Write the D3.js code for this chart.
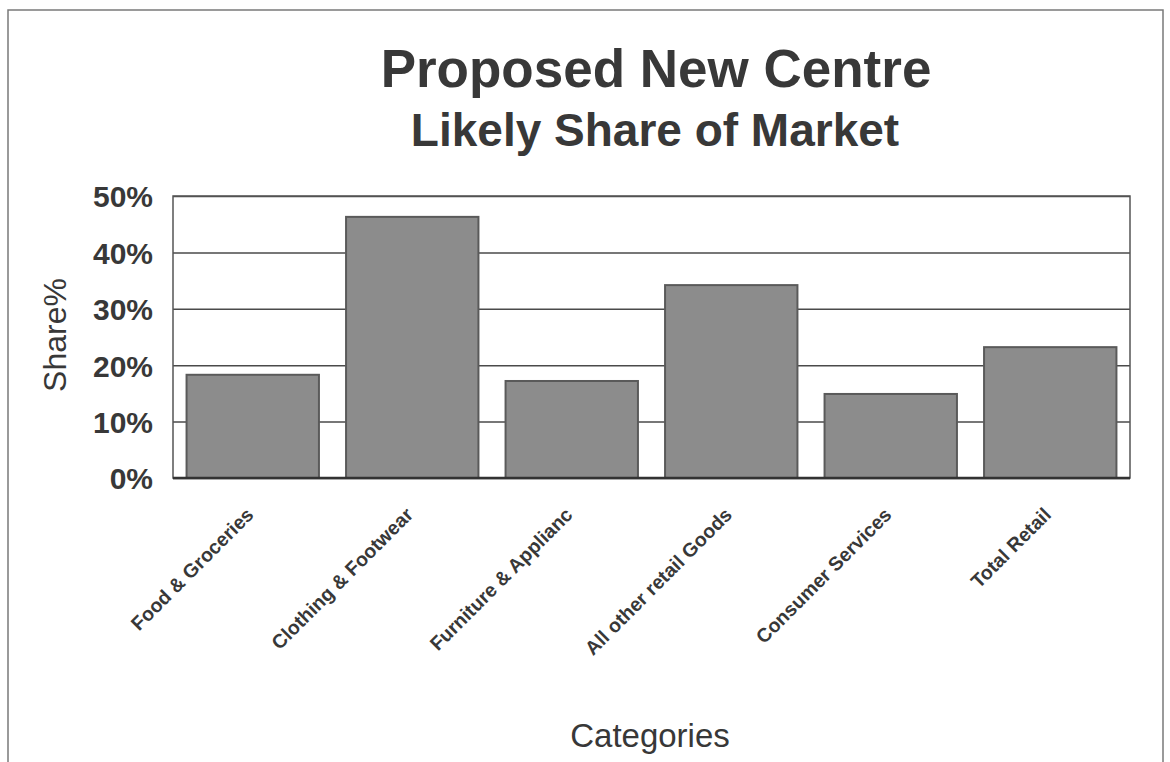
<!DOCTYPE html>
<html>
<head>
<meta charset="utf-8">
<script src="https://cdn.jsdelivr.net/npm/d3@7"></script>
<style>
  body { margin: 0; background: #fff; }
  svg { font-family: "Liberation Sans", Arial, sans-serif; }
</style>
</head>
<body>
<div id="chart"></div>
<script>
// chart data
const CATEGORIES = ["Food & Groceries", "Clothing & Footwear", "Furniture & Applianc",
                    "All other retail Goods", "Consumer Services", "Total Retail"];
const SHARES = [0.183, 0.463, 0.172, 0.342, 0.149, 0.232];
const Y_TICKS = [0, 0.1, 0.2, 0.3, 0.4, 0.5];

// frame constants
const FRAME_WIDTH = 1170;
const FRAME_HEIGHT = 762;
const MARGINS = {left: 173, right: 40, top: 196, bottom: 284};
const VIS_WIDTH = FRAME_WIDTH - MARGINS.left - MARGINS.right;
const VIS_HEIGHT = FRAME_HEIGHT - MARGINS.top - MARGINS.bottom;

const INK = "#383838";

const FRAME = d3.select("#chart")
  .append("svg")
    .attr("width", FRAME_WIDTH)
    .attr("height", FRAME_HEIGHT);

// outer chart border (bottom edge is cut off in the scan)
FRAME.append("path")
  .attr("d", "M8,775 L8,10 L1163,10 L1163,775")
  .attr("fill", "none")
  .attr("stroke", "#7a7a7a")
  .attr("stroke-width", 1.5);

// titles
FRAME.append("text")
  .attr("x", 656).attr("y", 87)
  .attr("text-anchor", "middle")
  .attr("font-size", 53).attr("font-weight", "bold")
  .attr("fill", INK)
  .text("Proposed New Centre");

FRAME.append("text")
  .attr("x", 655).attr("y", 146)
  .attr("text-anchor", "middle")
  .attr("font-size", 46).attr("font-weight", "bold")
  .attr("fill", INK)
  .text("Likely Share of Market");

// scales
const X_SCALE = d3.scaleBand()
  .domain(CATEGORIES)
  .range([0, VIS_WIDTH])
  .paddingInner(0.17)
  .paddingOuter(0.085);

const Y_SCALE = d3.scaleLinear()
  .domain([0, 0.5])
  .range([VIS_HEIGHT, 0]);

const PLOT = FRAME.append("g")
  .attr("transform", "translate(" + MARGINS.left + "," + MARGINS.top + ")");

// gridlines
PLOT.append("g")
  .call(d3.axisLeft(Y_SCALE).tickValues(Y_TICKS).tickSize(-VIS_WIDTH).tickFormat(""))
  .call(g => g.select(".domain").remove())
  .selectAll("line")
    .attr("stroke", "#4a4a4a")
    .attr("stroke-width", 1.5);

// plot border
PLOT.append("rect")
  .attr("width", VIS_WIDTH).attr("height", VIS_HEIGHT)
  .attr("fill", "none")
  .attr("stroke", "#555")
  .attr("stroke-width", 1.5);

// bars
PLOT.selectAll(".bar")
  .data(SHARES)
  .enter()
  .append("rect")
    .attr("class", "bar")
    .attr("x", (d, i) => X_SCALE(CATEGORIES[i]))
    .attr("y", (d) => Y_SCALE(d))
    .attr("width", X_SCALE.bandwidth())
    .attr("height", (d) => VIS_HEIGHT - Y_SCALE(d))
    .attr("fill", "#8c8c8c")
    .attr("stroke", "#5a5a5a")
    .attr("stroke-width", 2);

// x axis line
PLOT.append("line")
  .attr("x1", 0).attr("x2", VIS_WIDTH)
  .attr("y1", VIS_HEIGHT).attr("y2", VIS_HEIGHT)
  .attr("stroke", "#333").attr("stroke-width", 2.5);

// y axis labels
const Y_AXIS = PLOT.append("g")
  .call(d3.axisLeft(Y_SCALE).tickValues(Y_TICKS).tickSize(0).tickPadding(20)
          .tickFormat(d3.format(".0%")));
Y_AXIS.select(".domain").remove();
Y_AXIS.selectAll("text")
  .attr("font-size", 30).attr("font-weight", "bold")
  .attr("font-family", "Liberation Sans, Arial, sans-serif")
  .attr("fill", INK)
  .attr("dy", "0.36em");

// x axis labels, rotated
const X_AXIS = PLOT.append("g")
  .attr("transform", "translate(0," + VIS_HEIGHT + ")")
  .call(d3.axisBottom(X_SCALE).tickSize(0).tickPadding(0));
X_AXIS.select(".domain").remove();
X_AXIS.selectAll("text")
  .attr("font-size", 19.5).attr("font-weight", "bold")
  .attr("font-family", "Liberation Sans, Arial, sans-serif")
  .attr("fill", INK)
  .attr("text-anchor", "end")
  .attr("dy", 0)
  .attr("transform", "translate(2,38) rotate(-45)");

// axis titles
FRAME.append("text")
  .attr("transform", "translate(66,335) rotate(-90)")
  .attr("text-anchor", "middle")
  .attr("font-size", 32)
  .attr("fill", INK)
  .text("Share%");

FRAME.append("text")
  .attr("x", 650).attr("y", 747)
  .attr("text-anchor", "middle")
  .attr("font-size", 33)
  .attr("fill", INK)
  .text("Categories");
</script>
</body>
</html>
